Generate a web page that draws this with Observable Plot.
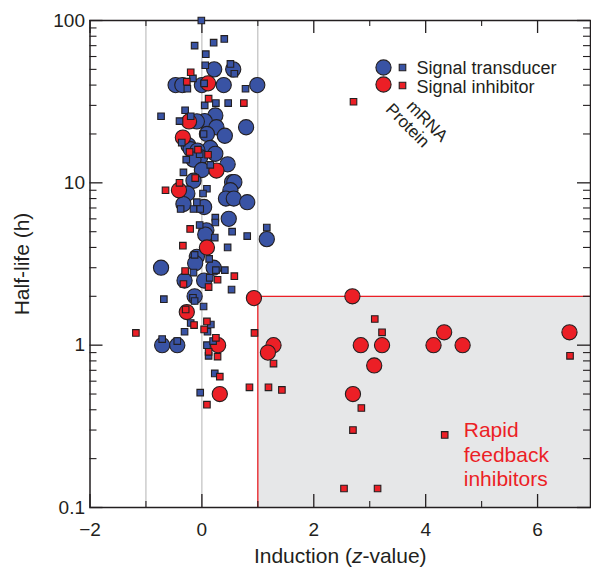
<!DOCTYPE html>
<html><head><meta charset="utf-8">
<script src="https://cdn.jsdelivr.net/npm/d3@7"></script>
<script src="https://cdn.jsdelivr.net/npm/@observablehq/plot@0.6"></script>
<style>body{margin:0;background:#fff} #chart svg{display:block}</style>
</head><body><div id="chart"></div>
<script>
// ---- data: [induction z-value, half-life (h)] ----
const transducerProtein = [[0.22,50],[0.56,50],[-0.47,40],[-0.35,40],[0.0,40],[0.39,40],[0.99,40],[0.24,26],[0.05,24],[-0.09,23.9],[0.26,22],[0.79,22],[0.09,20],[0.41,19.5],[-0.24,17],[-0.20,16.1],[0.15,16.4],[0.24,15.1],[-0.08,15.8],[-0.03,14.4],[-0.15,13.9],[0.46,13],[0,12],[-0.15,10.3],[0.54,10.1],[0.58,10.1],[-0.26,8.6],[0.51,9.0],[0.43,8.0],[0.57,8.0],[0.81,7.6],[-0.33,7.4],[0.04,7.1],[0.48,6.0],[0.08,5.1],[0.06,4.8],[1.16,4.5],[-0.09,3.5],[-0.12,3.2],[-0.73,3.0],[0.21,3.0],[-0.31,2.5],[0.04,2.5],[-0.13,2.0],[-0.71,1.0],[-0.44,1.0]];
const transducerMRNA = [[-0.01,100],[-0.13,70],[0.21,73],[0.40,77],[0.07,62],[0.06,53],[0.51,54],[0.58,47],[-0.16,44],[-0.26,38],[0.04,41],[0.78,38],[0.05,30],[0.25,31],[0.47,31],[-0.30,28],[-0.73,25.7],[-0.20,25.7],[-0.40,24],[0.03,20],[-0.36,17.7],[-0.28,13.9],[0.15,12.9],[-0.04,15],[-0.33,11.6],[0.09,9.2],[0.02,8.6],[-0.09,7.6],[-0.38,6.9],[-0.15,6.9],[-0.03,6.9],[0.24,6.1],[0.24,5.7],[-0.04,5.5],[0.23,4.6],[0.54,5.0],[0.81,4.7],[1.16,5.3],[0.46,4.0],[-0.13,3.6],[0.13,3.4],[0.25,2.9],[0.41,2.9],[-0.15,2.8],[0.14,2.6],[0.53,2.2],[-0.16,1.96],[-0.13,1.87],[-0.68,1.92],[0.03,1.73],[-0.31,1.21],[-0.20,1.37],[0.16,1.34],[0.10,1.21],[-0.71,1.09],[-0.44,1.06],[0.09,1.0],[0.20,1.06],[0.12,0.86],[0.23,0.67],[-0.03,0.51]];
const inhibitorProtein = [[0.11,41],[-0.23,23.9],[-0.34,19],[0.26,11.9],[-0.41,9.0],[0.09,4.0],[0.93,1.95],[-0.27,1.6],[0.29,1.0],[0.32,0.50],[1.28,1.0],[1.18,0.90],[2.69,2.0],[2.84,1.0],[3.22,1.0],[3.08,0.75],[2.70,0.50],[4.14,1.0],[4.33,1.2],[4.66,1.0],[6.57,1.2]];
const inhibitorMRNA = [[-0.20,48],[-0.27,42],[0.12,33],[0.75,31],[-0.22,15.5],[-0.07,16],[0.11,14.9],[-0.12,10.7],[-0.40,10.0],[-0.65,9.0],[-0.21,5.2],[-0.34,4.1],[-0.30,2.86],[-0.33,2.38],[0.28,2.53],[0.58,2.66],[0.12,2.28],[-0.29,1.66],[-0.14,1.33],[0.09,1.40],[0.04,1.25],[-1.18,1.19],[0.25,1.11],[0.12,0.91],[0.28,0.85],[0.32,0.64],[0.09,0.43],[0.94,1.19],[1.28,0.77],[0.85,0.55],[1.19,0.55],[1.43,0.53],[3.09,1.45],[3.22,1.2],[2.54,0.131],[3.14,0.131],[4.34,0.28],[6.58,0.86],[2.70,0.30],[2.85,0.41],[2.71,31.6]];

const xDomain = [-2, 6.946];
const yDomain = [0.1, 100];
const xMajor = [-2, 0, 2, 4, 6];
const xMinor = [-1, 1, 3, 5];
const yMajor = [0.1, 1, 10, 100];
const yMinor = [0.2,0.3,0.4,0.5,0.6,0.7,0.8,0.9,2,3,4,5,6,7,8,9,20,30,40,50,60,70,80,90];
const guideLines = [-1, 0, 1];
const rapidBox = [{x1: 1, x2: 6.946, y1: 0.1, y2: 2}];
const rapidLabel = [{x: 4.68, y: 0.214, text: "Rapid\nfeedback\ninhibitors"}];
const legendRows = ["Signal transducer", "Signal inhibitor"];

// ---- styles ----
const BLUE = "#3953a4", RED = "#ec1f26", INK = "#231f20";
const W = 591, H = 572, ML = 89.5, MR = 1, MT = 20, MB = 65;
const PW = W - ML - MR, PH = H - MT - MB;
const FONT = "'Liberation Sans', Arial, Helvetica, sans-serif";
const circ = {r: 7.6, stroke: INK, strokeWidth: 1.1};
const sq = {symbol: "square", r: 3.7, stroke: INK, strokeWidth: 1.1};
const px = d => d[0], py = d => d[1];
const legendText = (label, dyPx) => Plot.text([label], {frameAnchor: "top-left", text: d => d, dx: 416 - ML, dy: dyPx - MT,
  textAnchor: "start", lineAnchor: "middle", fontSize: 18});

const chart = Plot.plot({
  width: W, height: H,
  marginLeft: ML, marginRight: MR, marginTop: MT, marginBottom: MB,
  style: {fontFamily: FONT, fontSize: "19px", color: INK, background: "#fff", overflow: "visible"},
  x: {domain: xDomain, axis: null, label: null},
  y: {type: "log", domain: yDomain, axis: null, label: null},
  marks: [
    Plot.ruleX(guideLines, {x: d => d, stroke: "#b3b3b3", strokeWidth: 1}),
    Plot.rect(rapidBox, {x1: "x1", x2: "x2", y1: "y1", y2: "y2", fill: "#e6e7e8"}),
    Plot.ruleX(rapidBox, {x: "x1", y1: "y1", y2: "y2", stroke: RED, strokeWidth: 1.3}),
    Plot.ruleY(rapidBox, {y: "y2", x1: "x1", x2: "x2", stroke: RED, strokeWidth: 1.3}),
    // inward ticks
    Plot.ruleY(yMajor, {y: d => d, insetRight: PW - 13, stroke: INK, strokeWidth: 1.3}),
    Plot.ruleY(yMinor, {y: d => d, insetRight: PW - 7, stroke: INK, strokeWidth: 1.1}),
    Plot.ruleY(yMajor, {y: d => d, insetLeft: PW - 13, stroke: INK, strokeWidth: 1.3}),
    Plot.ruleY(yMinor, {y: d => d, insetLeft: PW - 7, stroke: INK, strokeWidth: 1.1}),
    Plot.ruleX(xMajor, {x: d => d, insetTop: PH - 13, stroke: INK, strokeWidth: 1.3}),
    Plot.ruleX(xMinor, {x: d => d, insetTop: PH - 6, stroke: INK, strokeWidth: 1.1}),
    Plot.ruleX(xMajor, {x: d => d, insetBottom: PH - 13, stroke: INK, strokeWidth: 1.3}),
    Plot.ruleX(xMinor, {x: d => d, insetBottom: PH - 6, stroke: INK, strokeWidth: 1.1}),
    Plot.frame({stroke: INK, strokeWidth: 1.5}),
    Plot.axisY(yMajor, {anchor: "left", tickSize: 0, tickPadding: 5, tickFormat: d => String(d), fontSize: 19}),
    Plot.axisX(xMajor, {anchor: "bottom", tickSize: 0, tickPadding: 15, fontSize: 19}),
    // data
    Plot.dot(transducerProtein, {x: px, y: py, fill: BLUE, ...circ}),
    Plot.dot(inhibitorProtein, {x: px, y: py, fill: RED, ...circ}),
    Plot.dot(transducerMRNA, {x: px, y: py, fill: BLUE, ...sq}),
    Plot.dot(inhibitorMRNA, {x: px, y: py, fill: RED, ...sq}),
    // annotation
    Plot.text(rapidLabel, {x: "x", y: "y", text: "text", textAnchor: "start", lineAnchor: "middle", lineHeight: 1.17, fill: RED, fontSize: 21}),
    // legend
    Plot.dot([0], {frameAnchor: "top-left", dx: 383 - ML, dy: 67 - MT, fill: BLUE, ...circ}),
    Plot.dot([0], {frameAnchor: "top-left", dx: 402 - ML, dy: 67 - MT, fill: BLUE, ...sq}),
    Plot.dot([0], {frameAnchor: "top-left", dx: 383 - ML, dy: 84 - MT, fill: RED, ...circ}),
    Plot.dot([0], {frameAnchor: "top-left", dx: 402 - ML, dy: 85 - MT, fill: RED, ...sq}),
    legendText(legendRows[0], 68),
    legendText(legendRows[1], 87),
    Plot.text(["mRNA"], {frameAnchor: "top-left", text: d => d, dx: 409 - ML, dy: 103 - MT, rotate: 45, textAnchor: "start", lineAnchor: "middle", fontSize: 17}),
    Plot.text(["Protein"], {frameAnchor: "top-left", text: d => d, dx: 388 - ML, dy: 106 - MT, rotate: 45, textAnchor: "start", lineAnchor: "middle", fontSize: 17}),
    // axis titles
    Plot.text(["Half-life (h)"], {frameAnchor: "left", text: d => d, dx: 22 - ML, rotate: -90, textAnchor: "middle", lineAnchor: "middle", fontSize: 21}),
    Plot.text(["Induction (z-value)"], {frameAnchor: "bottom", text: d => d, dy: 556 - (H - MB), textAnchor: "middle", lineAnchor: "middle", fontSize: 21})
  ]
});
document.getElementById("chart").append(chart);

// italic "z" in the x-axis title
chart.querySelectorAll("text").forEach(t => {
  if (t.textContent === "Induction (z-value)") {
    const ns = "http://www.w3.org/2000/svg";
    t.textContent = "";
    t.appendChild(document.createTextNode("Induction ("));
    const z = document.createElementNS(ns, "tspan");
    z.setAttribute("font-style", "italic");
    z.textContent = "z";
    t.appendChild(z);
    t.appendChild(document.createTextNode("-value)"));
  }
});
</script>
</body></html>
